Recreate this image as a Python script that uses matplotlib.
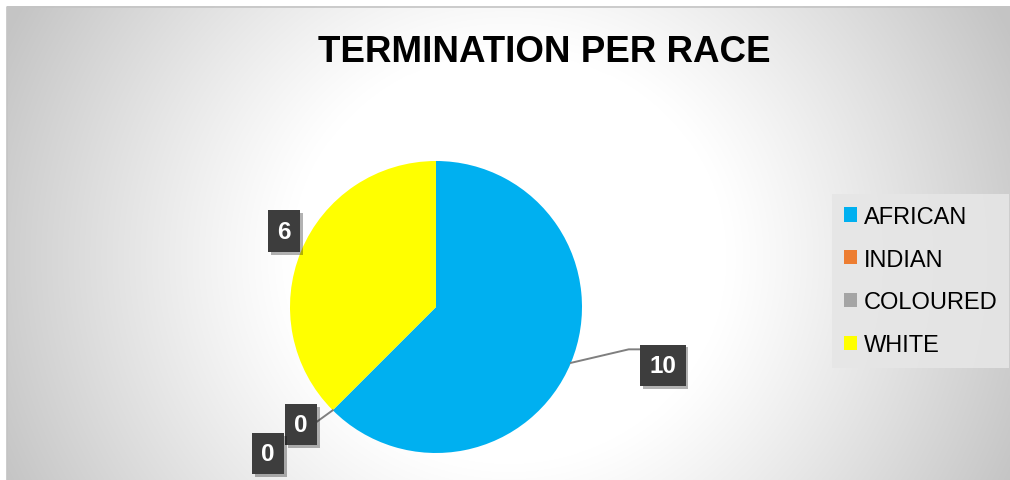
import numpy as np
import matplotlib
matplotlib.use("Agg")
import matplotlib.pyplot as plt
import matplotlib.patheffects as pe

# Chart data
categories = ["AFRICAN", "INDIAN", "COLOURED", "WHITE"]
values = [10, 0, 0, 6]
colors = ["#00B0F0", "#ED7D31", "#A5A5A5", "#FFFF00"]
title = "TERMINATION PER RACE"

W, H = 1010, 481
fig = plt.figure(figsize=(W / 100, H / 100), dpi=100)
fig.patch.set_facecolor("white")

# Background: radial gray-to-white gradient inside the chart area
bg = fig.add_axes([0, 0, 1, 1])
bg.set_xlim(0, W)
bg.set_ylim(H, 0)
bg.axis("off")
yy, xx = np.mgrid[0:H, 0:W]
r = np.hypot(xx - 505, (yy - 255) * 1.05)
t = np.clip((r - 220) / 340, 0, 1) ** 1.1
shade = 1 - 0.23 * t
img = np.dstack([shade, shade, shade])
bg.imshow(img, extent=(7, W, H, 7), aspect="auto", interpolation="bilinear")
bg.plot([7, 7, W], [H, 7.5, 7.5], color="#c4c4c4", lw=1.2)

fig.text(544 / W, 1 - 52 / H, title, ha="center", va="center",
         fontsize=26.5, fontweight="bold", family="Liberation Sans", color="black")

# Pie: centre (436, 308) px, radius 146 px
cx, cy, rad = 436, 308, 146
ax = fig.add_axes([(cx - rad) / W, 1 - (cy + rad) / H, 2 * rad / W, 2 * rad / H])
wedges, _ = ax.pie(values, colors=colors, startangle=90, counterclock=False,
                   wedgeprops=dict(linewidth=0))
ax.set_xlim(-1, 1)
ax.set_ylim(-1, 1)
ax.set_aspect("equal")
ax.axis("off")

# Data label boxes (positions in pie radii) and leader lines
label_offsets = [(1.555, -0.40), (-0.925, -0.805), (-1.15, -1.005), (-1.04, 0.52)]
has_leader = [True, True, False, False]

shadow = [pe.SimplePatchShadow(offset=(2, -2), shadow_rgbFace="black", alpha=0.3),
          pe.Normal()]
for w, v, (lx, ly), lead in zip(wedges, values, label_offsets, has_leader):
    ang = np.deg2rad((w.theta1 + w.theta2) / 2)
    ex, ey = np.cos(ang), np.sin(ang)
    if lead and v > 0:
        ex2, ey2 = lx - 0.155, ly + 0.11
        ax.plot([ex, ex2 - 0.08, ex2], [ey, ey2, ey2], color="#7f7f7f", lw=1.4,
                clip_on=False, zorder=3)
    elif lead:
        ax.plot([ex, lx + 0.11], [ey, ly + 0.02], color="#7f7f7f", lw=1.4,
                clip_on=False, zorder=3)
    txt = ax.text(lx, ly, str(v), ha="center", va="center", fontsize=17.5,
                  fontweight="bold", family="Liberation Sans", color="white",
                  bbox=dict(boxstyle="square,pad=0.38", facecolor="#3d3d3d",
                            edgecolor="none"),
                  zorder=5, clip_on=False)
    txt.get_bbox_patch().set_path_effects(shadow)

leg = fig.legend(wedges, categories, loc="upper left",
                 bbox_to_anchor=(832 / W, 1 - 195 / H),
                 prop=dict(family="Liberation Sans", size=17),
                 frameon=True, fancybox=False, handlelength=0.55, handleheight=0.55,
                 handletextpad=0.3, labelspacing=0.88, borderpad=0.5,
                 borderaxespad=0)
leg.get_frame().set_facecolor("#e6e6e6")
leg.get_frame().set_edgecolor("none")
leg.get_frame().set_alpha(0.9)

fig.savefig("out.png", dpi=100)
